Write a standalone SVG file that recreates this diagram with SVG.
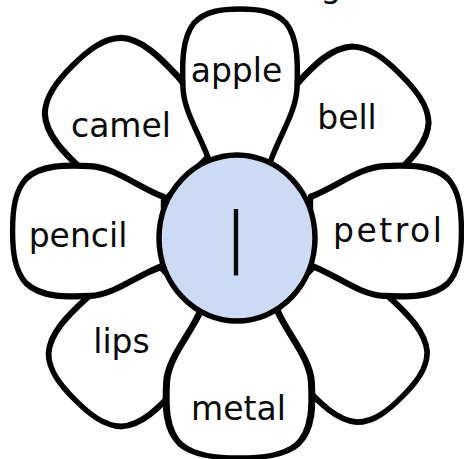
<svg xmlns="http://www.w3.org/2000/svg" width="464" height="459" viewBox="0 0 464 459">
<style>
.pt{fill:#fff;stroke:#000;stroke-width:5.5;stroke-linejoin:round;vector-effect:non-scaling-stroke}
.lb{font-family:"DejaVu Sans",sans-serif;font-size:33px;fill:#0a0a0a;text-anchor:middle}
</style>
<defs>
<path id="petal" d="M -30,-75 C -38,-100 -56,-125 -57,-150 C -58,-175 -58,-200 -46,-215 C -35,-227 -18,-229 0,-229 C 18,-229 35,-227 46,-215 C 58,-200 58,-175 57,-150 C 56,-125 38,-100 30,-75 Z"/>
</defs>
<rect width="464" height="459" fill="#fff"/>
<text class="lb" x="331" y="-3">g</text>
<g id="petal-camel"><use href="#petal" class="pt" transform="translate(241,234) rotate(-45) scale(1.17,1.04)"/><text class="lb" x="121" y="137">camel</text></g>
<g id="petal-bell"><use href="#petal" class="pt" transform="translate(237,238) rotate(45) scale(1.17,1.01)"/><text class="lb" x="347" y="129">bell</text></g>
<g id="petal-lips"><use href="#petal" class="pt" transform="translate(237,238) rotate(-135) scale(1.12,1.0)"/><text class="lb" x="121.5" y="353">lips</text></g>
<g id="petal-blank"><use href="#petal" class="pt" transform="translate(240,235) rotate(135) scale(1.08,1.0)"/></g>
<g id="petal-apple"><use href="#petal" class="pt" transform="translate(240,238)"/><text class="lb" x="236.5" y="82">apple</text></g>
<g id="petal-metal"><use href="#petal" class="pt" transform="translate(239,238) rotate(180) scale(1.27,0.96)"/><text class="lb" x="238.5" y="420">metal</text></g>
<g id="petal-pencil"><use href="#petal" class="pt" transform="translate(237,231) rotate(-90) scale(1.14,0.98)"/><text class="lb" x="78" y="247">pencil</text></g>
<g id="petal-petrol"><use href="#petal" class="pt" transform="translate(237,231) rotate(90) scale(1.14,0.98)"/><text class="lb" x="387.5" y="242" textLength="109">petrol</text></g>
<g id="center"><ellipse cx="237" cy="238" rx="78" ry="83" fill="#cddaf3" stroke="#000" stroke-width="5.5"/><text transform="translate(236,275) scale(0.55,1)" x="0" y="0" font-family="'DejaVu Sans',sans-serif" font-size="88" text-anchor="middle" fill="#0a0a0a">l</text></g>
</svg>
